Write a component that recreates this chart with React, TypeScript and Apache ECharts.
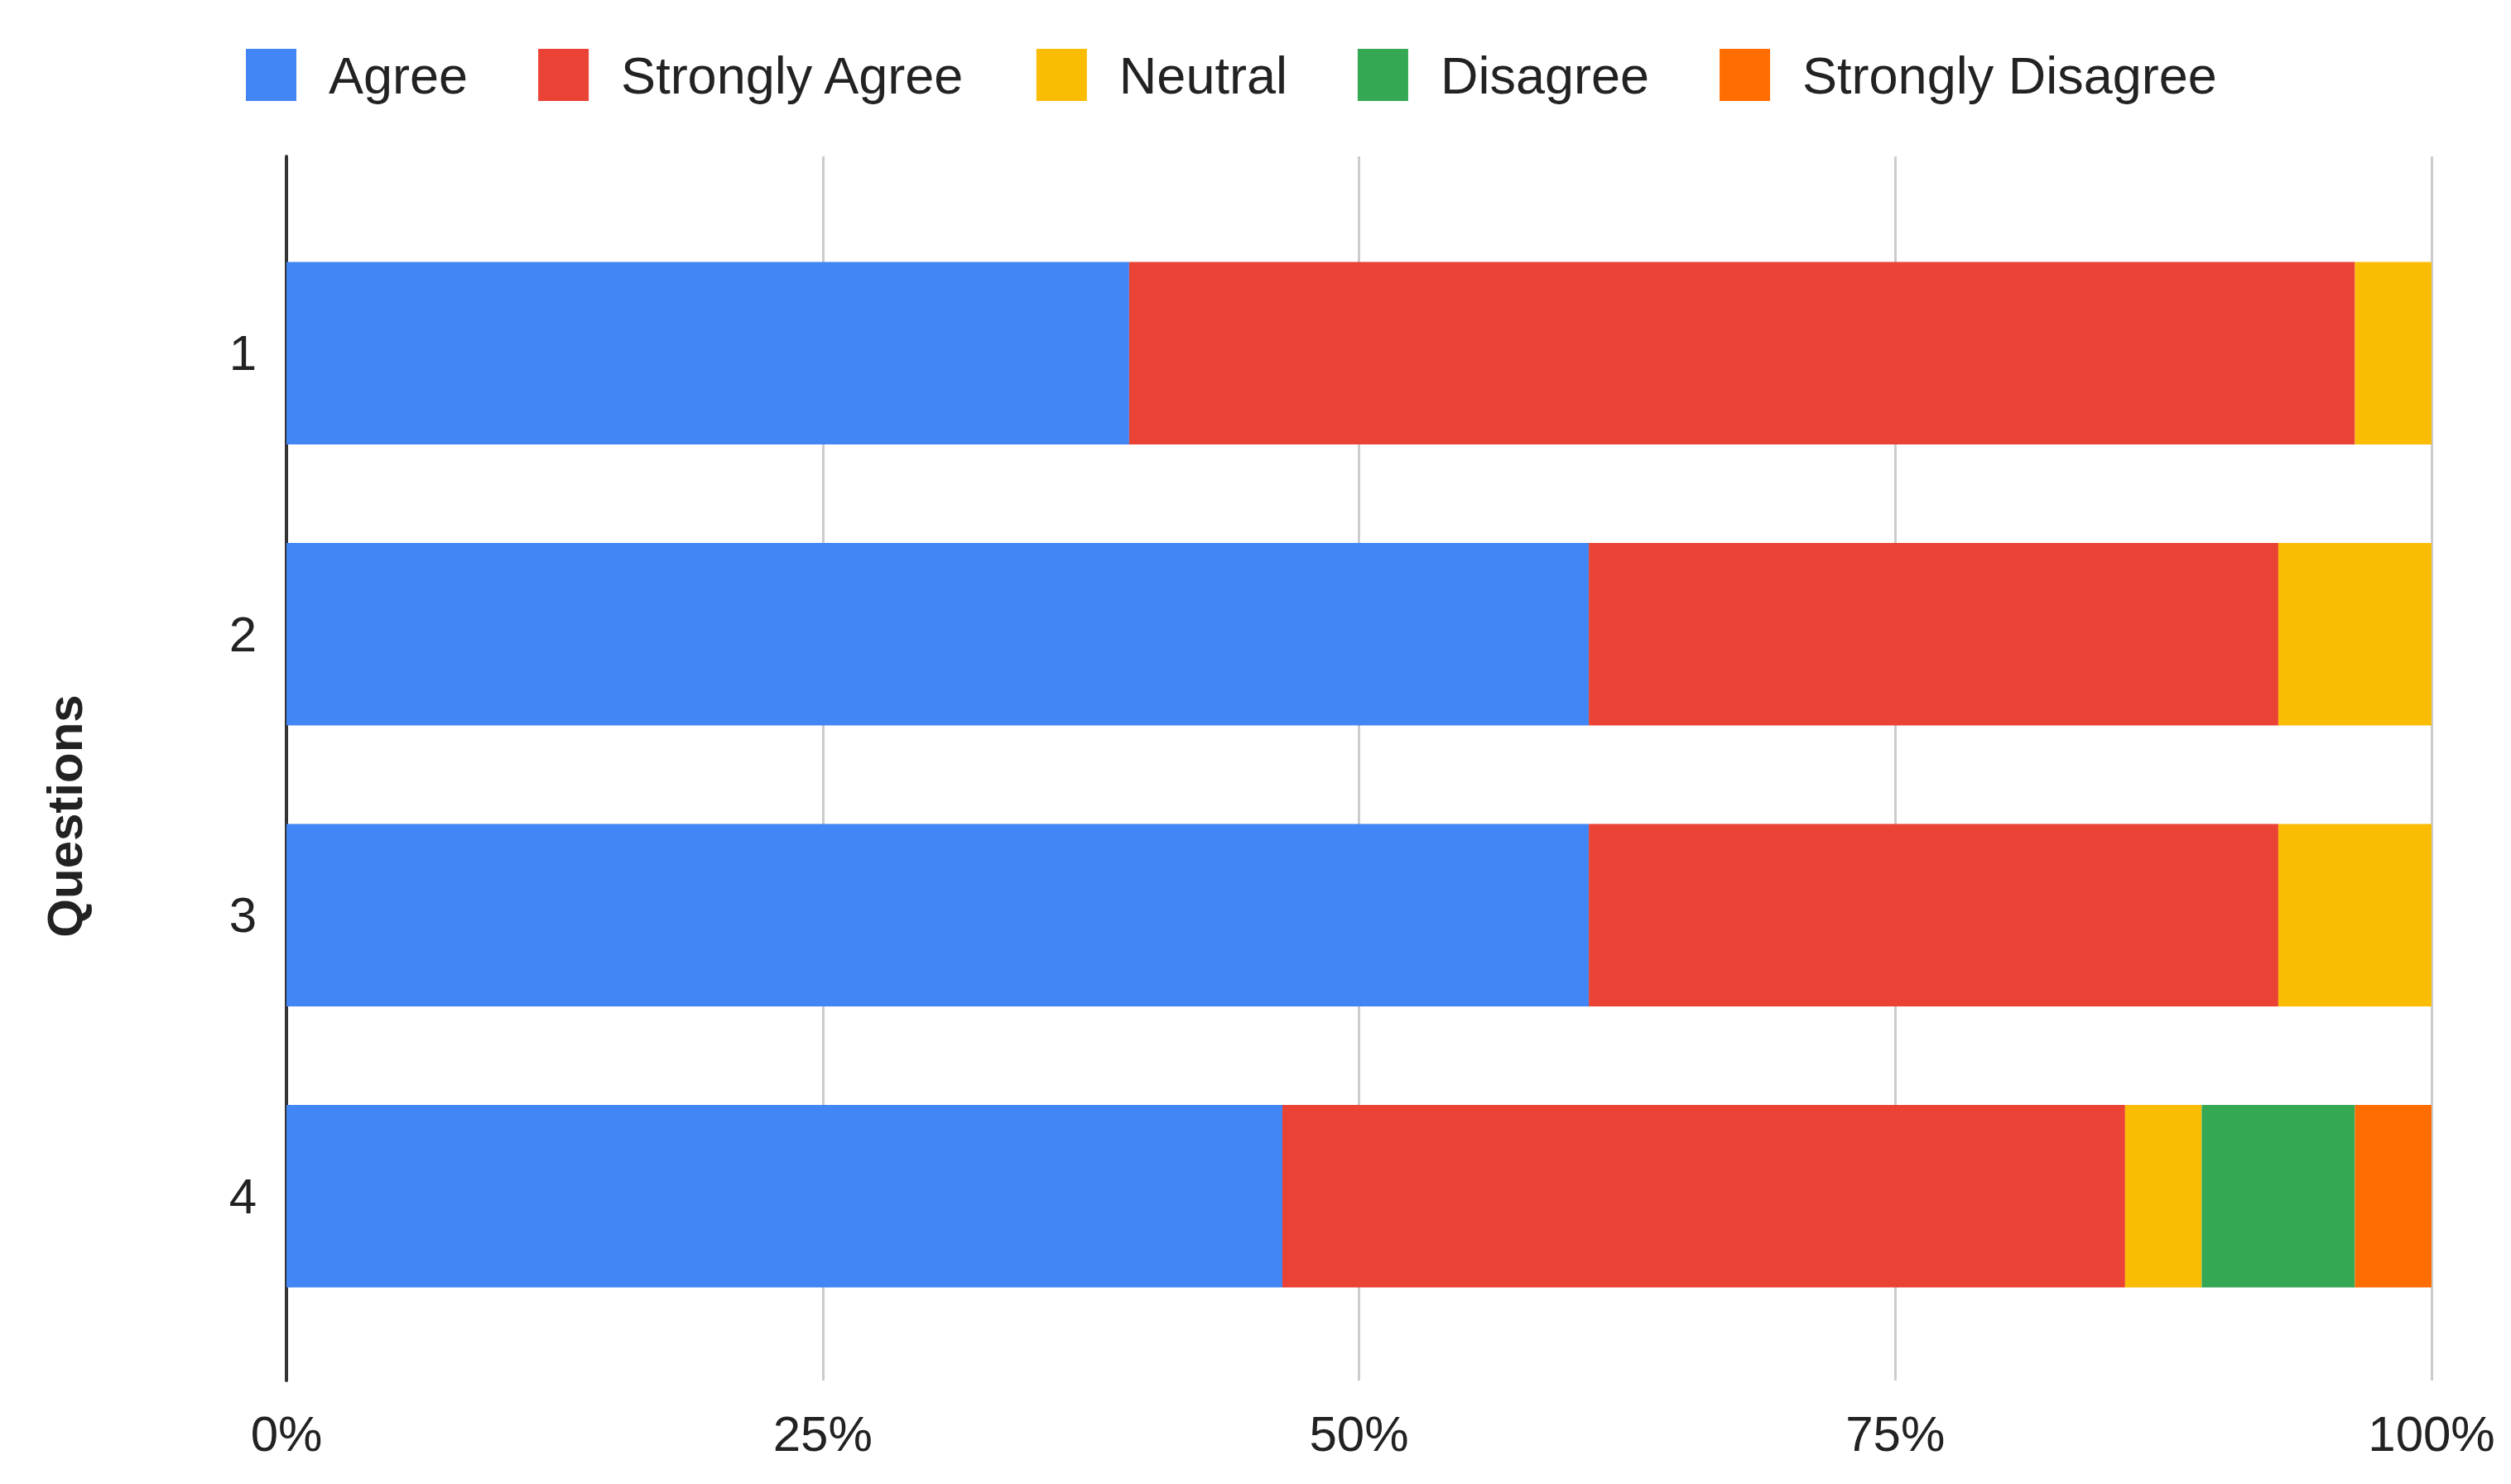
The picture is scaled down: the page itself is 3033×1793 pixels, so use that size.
import React, { useEffect, useRef } from "react";
import * as echarts from "echarts";

const categories = ["1", "2", "3", "4"];
const seriesNames = ["Agree", "Strongly Agree", "Neutral", "Disagree", "Strongly Disagree"];
const agree = [11, 17, 17, 13];
const stronglyAgree = [16, 9, 9, 11];
const neutral = [1, 2, 2, 1];
const disagree = [0, 0, 0, 2];
const stronglyDisagree = [0, 0, 0, 1];
const colors = ["#4285F4", "#EA4335", "#FBBC04", "#34A853", "#FF6D01"];
const xTicks = [0, 0.25, 0.5, 0.75, 1];
const yAxisTitle = "Questions";

const FONT = "'Liberation Sans', Arial, sans-serif";

export default function App() {
  const ref = useRef<HTMLDivElement>(null);
  useEffect(() => {
    if (!ref.current) return;
    const chart = echarts.init(ref.current, undefined, { renderer: "svg" });
    const all = [agree, stronglyAgree, neutral, disagree, stronglyDisagree];
    const totals = categories.map((_, i) => all.reduce((s, arr) => s + arr[i], 0));
    const xMin = xTicks[0];
    const xMax = xTicks[xTicks.length - 1];
    chart.setOption({
      animation: false,
      backgroundColor: "#ffffff",
      textStyle: { fontFamily: FONT },
      legend: {
        top: 54,
        left: 292,
        itemWidth: 61,
        itemHeight: 63,
        itemGap: 85,
        icon: "rect",
        data: seriesNames,
        textStyle: {
          fontSize: 63,
          color: "#222222",
          fontFamily: FONT,
          padding: [0, 0, 0, 34],
        },
      },
      grid: [
        { left: 346, right: 96, top: 257, bottom: 178, containLabel: false },
        { left: 346, right: 96, top: 189, bottom: 125, containLabel: false },
      ],
      xAxis: [
        {
          type: "value",
          gridIndex: 0,
          min: xMin,
          max: xMax,
          interval: 0.25,
          axisLine: { show: false },
          axisTick: { show: false },
          axisLabel: { show: false },
          splitLine: { show: false },
        },
        {
          type: "value",
          gridIndex: 1,
          min: xMin,
          max: xMax,
          interval: 0.25,
          axisLine: { show: false },
          axisTick: { show: false },
          splitLine: { show: true, lineStyle: { color: "#cccccc", width: 3 } },
          axisLabel: {
            fontSize: 60,
            color: "#222222",
            fontFamily: FONT,
            margin: 34,
            formatter: (v: number) => Math.round(v * 100) + "%",
          },
        },
      ],
      yAxis: [
        {
          type: "category",
          gridIndex: 0,
          data: categories,
          inverse: true,
          axisLine: { show: false },
          axisTick: { show: false },
          axisLabel: { fontSize: 60, color: "#222222", fontFamily: FONT, margin: 36 },
          splitLine: { show: false },
        },
        {
          type: "value",
          gridIndex: 1,
          min: 0,
          max: 1,
          axisLine: { show: true, onZero: false, lineStyle: { color: "#333333", width: 4 } },
          axisTick: { show: false },
          axisLabel: { show: false },
          splitLine: { show: false },
        },
      ],
      graphic: [
        {
          type: "text",
          x: 78,
          y: 986,
          rotation: Math.PI / 2,
          style: {
            text: yAxisTitle,
            fontSize: 60,
            fontWeight: "bold",
            fontFamily: FONT,
            fill: "#222222",
            align: "center",
            verticalAlign: "middle",
          },
        },
      ],
      series: all.map((arr, si) => ({
        name: seriesNames[si],
        type: "bar",
        xAxisIndex: 0,
        yAxisIndex: 0,
        stack: "total",
        barCategoryGap: "35%",
        itemStyle: { color: colors[si] },
        data: arr.map((v, i) => v / totals[i]),
      })),
    });
    return () => chart.dispose();
  }, []);
  return (
    <div
      ref={ref}
      style={{ position: "fixed", left: 0, top: 0, width: 3033, height: 1793, background: "#fff" }}
    />
  );
}
